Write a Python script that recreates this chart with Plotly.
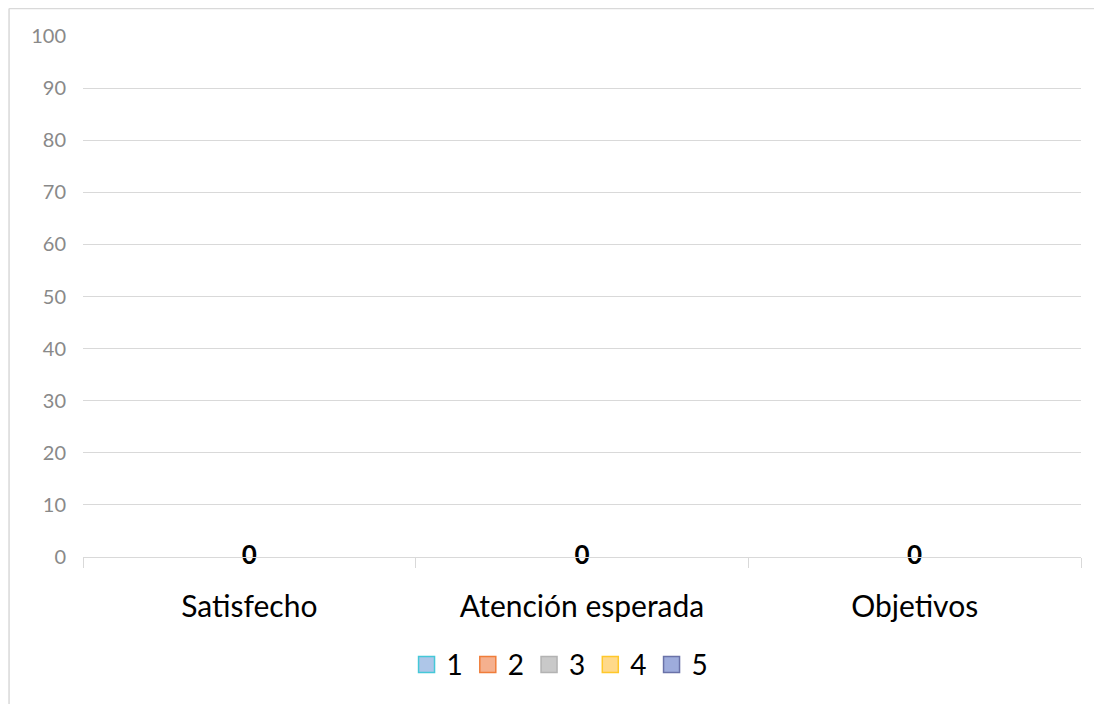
import plotly.graph_objects as go

categories = ["Satisfecho", "Atención esperada", "Objetivos"]
series_names = ["1", "2", "3", "4", "5"]
s1 = [0, 0, 0]
s2 = [0, 0, 0]
s3 = [0, 0, 0]
s4 = [0, 0, 0]
s5 = [0, 0, 0]
y_ticks = [0, 10, 20, 30, 40, 50, 60, 70, 80, 90, 100]

fills = ["#aec6e8", "#f5b08e", "#c9c9c9", "#ffd98a", "#9eacdc"]
borders = ["#45c8d8", "#f07d3a", "#b3b3b3", "#ffc82a", "#6a72a8"]

fig = go.Figure()
for name, vals, fc, bc in zip(series_names, [s1, s2, s3, s4, s5], fills, borders):
    fig.add_trace(go.Bar(
        x=categories, y=vals, name=name, legendgroup=name, showlegend=False,
        marker=dict(color=fc, line=dict(color=bc, width=0)),
    ))
    # legend entry (square swatch with outline)
    fig.add_trace(go.Scatter(
        x=[None], y=[None], mode="markers", name=name, legendgroup=name,
        marker=dict(symbol="square", size=16, color=fc, line=dict(color=bc, width=1.5)),
        hoverinfo="skip",
    ))

# data labels (value of middle series, centered on each category)
fig.add_trace(go.Scatter(
    x=categories, y=s3, text=[str(v) for v in s3], mode="text",
    textposition="middle center", showlegend=False, hoverinfo="skip", cliponaxis=False,
    textfont=dict(family="Lato", size=26, color="#000000", weight="bold"),
))

fig.update_layout(
    width=1102, height=704,
    margin=dict(l=75, r=29, t=28, b=155),
    paper_bgcolor="white", plot_bgcolor="white",
    barmode="group",
    font=dict(family="Lato"),
    showlegend=True,
    legend=dict(orientation="h", x=0.478, xanchor="center", y=-0.207, yanchor="middle",
                font=dict(family="Lato", size=28, color="#000000"),
                traceorder="normal", itemsizing="trace"),
    xaxis=dict(
        showgrid=False, showline=True, linecolor="#d9d9d9", linewidth=1.3,
        ticks="outside", tickson="boundaries", ticklen=10, tickcolor="#d9d9d9", tickwidth=1.3,
        tickfont=dict(family="Lato", size=30, color="#000000"),
        ticklabelstandoff=23,
    ),
    yaxis=dict(
        range=[0, 100], tickvals=y_ticks, showgrid=True, gridcolor="#d9d9d9", gridwidth=1.3,
        zeroline=False, showline=False,
        tickfont=dict(family="Lato", size=20, color="#898989"),
        ticklabelstandoff=16,
    ),
    shapes=[
        dict(type="line", xref="paper", yref="paper", x0=-0.0741, x1=1.05, y0=1.0528, y1=1.0528,
             line=dict(color="#d9d9d9", width=1.5)),
        dict(type="line", xref="paper", yref="paper", x0=-0.0741, x1=-0.0741, y0=1.0528, y1=-0.3,
             line=dict(color="#d9d9d9", width=1.5)),
    ],
)

fig.write_html("out.html")
